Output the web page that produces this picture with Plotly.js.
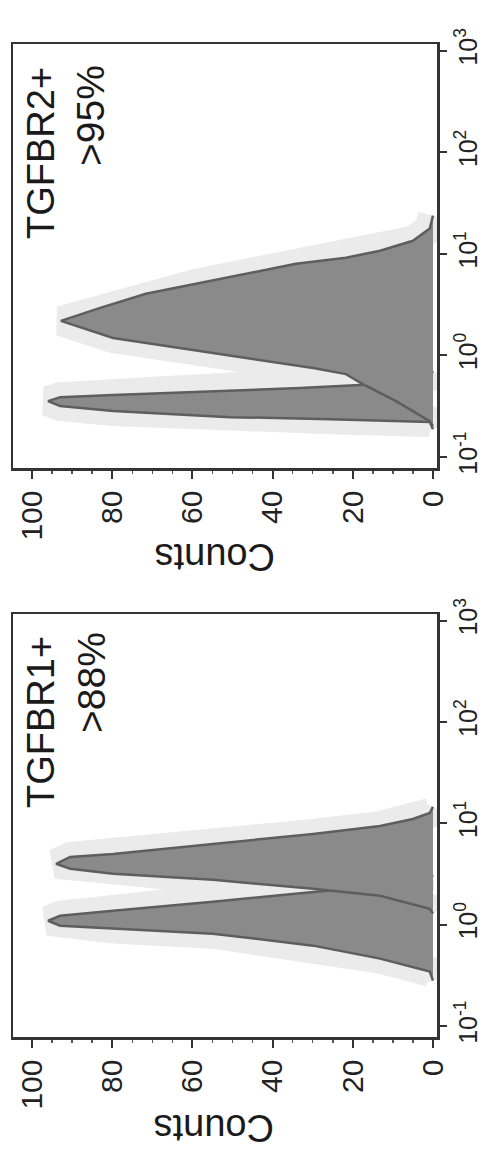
<!DOCTYPE html>
<html>
<head>
<meta charset="utf-8">
<script src="https://cdn.plot.ly/plotly-3.0.1.min.js"></script>
<style>html,body{margin:0;padding:0;background:#fff;}#chart{width:482px;height:1151px;}</style>
</head>
<body>
<div id="chart"></div>
<script>
// ---- Data ----
// Panel 1: TGFBR1+  (>88%)
var r1ControlCounts = [0, 0.8, 13.2, 29.9, 54.9, 79.8, 93.0, 96.0, 93.0, 79.8, 54.9, 29.9, 13.2, 0.8, 0];
var r1ControlFluor  = [0.280, 0.344, 0.461, 0.619, 0.813, 0.912, 0.975, 1.09, 1.22, 1.37, 1.68, 2.10, 2.41, 2.82, 3.09];
var r1StainCounts   = [0, 0.8, 13.2, 29.9, 54.9, 79.8, 90.5, 94.0, 90.5, 79.8, 54.9, 29.9, 13.2, 5.0, 0.8, 0];
var r1StainFluor    = [1.28, 1.43, 1.92, 2.25, 2.77, 3.17, 3.55, 3.98, 4.65, 4.98, 6.25, 7.83, 9.38, 11.0, 12.6, 14.5];
// Panel 2: TGFBR2+  (>95%)
var r2ControlCounts = [0, 0.8, 25.7, 50.6, 79.8, 93.0, 96.0, 93.0, 79.8, 54.9, 33.2, 13.2, 0.8, 0];
var r2ControlFluor  = [0.187, 0.220, 0.235, 0.246, 0.282, 0.316, 0.354, 0.387, 0.406, 0.445, 0.475, 0.521, 0.625, 0.700];
var r2StainCounts   = [0, 0.8, 9.2, 17.5, 21.7, 29.9, 46.6, 63.1, 79.8, 92.8, 83.0, 71.6, 59.1, 46.6, 34.2, 21.7, 13.2, 5.0, 0.8, 0];
var r2StainFluor    = [0.200, 0.224, 0.354, 0.521, 0.653, 0.750, 0.940, 1.18, 1.48, 2.18, 2.93, 4.03, 5.06, 6.35, 7.96, 9.14, 10.7, 13.4, 17.7, 23.7];

var panelNames   = ["TGFBR1+", "TGFBR2+"];
var panelPercent = ["&gt;88%", "&gt;95%"];
var countTicks   = [0, 20, 40, 60, 80, 100];
var fluorTicks   = [0.1, 1, 10, 100, 1000];
var fluorTickText = ["10<sup>-1</sup>", "10<sup>0</sup>", "10<sup>1</sup>", "10<sup>2</sup>", "10<sup>3</sup>"];
var countTitle   = "Counts";

// ---- Styling ----
var FONT = "Liberation Sans, Arial, Helvetica, sans-serif";
var W = 482, H = 1151;
var darkFill = "#8a8a8a", darkLine = "#5e5e5e", halo = "#ebebeb";

function haloTrace(x, y, xa, ya) {
  return {x: x, y: y, xaxis: xa, yaxis: ya, type: "scatter", mode: "lines",
    line: {color: halo, width: 30, shape: "linear"}, fill: "tozerox", fillcolor: halo,
    hoverinfo: "skip", showlegend: false};
}
function histTrace(x, y, xa, ya, name) {
  return {x: x, y: y, xaxis: xa, yaxis: ya, type: "scatter", mode: "lines", name: name,
    line: {color: darkLine, width: 2.5}, fill: "tozerox", fillcolor: darkFill, showlegend: false};
}

var data = [
  haloTrace(r1ControlCounts, r1ControlFluor, "x", "y"),
  haloTrace(r1StainCounts, r1StainFluor, "x", "y"),
  histTrace(r1ControlCounts, r1ControlFluor, "x", "y", "control"),
  histTrace(r1StainCounts, r1StainFluor, "x", "y", panelNames[0]),
  haloTrace(r2ControlCounts, r2ControlFluor, "x2", "y2"),
  haloTrace(r2StainCounts, r2StainFluor, "x2", "y2"),
  histTrace(r2ControlCounts, r2ControlFluor, "x2", "y2", "control"),
  histTrace(r2StainCounts, r2StainFluor, "x2", "y2", panelNames[1])
];

var xDom = [13 / W, 437 / W];
var yDomBottom = [1 - 1037 / H, 1 - 614 / H];
var yDomTop = [1 - 468 / H, 1 - 44 / H];

function countAxis(anchor) {
  return {domain: xDom, anchor: anchor, range: [104.75, -1], autorange: false,
    tickmode: "array", tickvals: countTicks, ticktext: countTicks.map(String), tickangle: -90,
    ticks: "outside", ticklen: 8, tickwidth: 2, tickcolor: "#333",
    minor: {dtick: 5, tick0: 0, ticks: "outside", ticklen: 3, tickwidth: 1.5, tickcolor: "#555"},
    showline: true, linecolor: "#333", linewidth: 2.5, mirror: true,
    showgrid: false, zeroline: false, fixedrange: true,
    tickfont: {family: FONT, size: 30, color: "#222"}};
}
function fluorAxis(anchor, dom) {
  return {domain: dom, anchor: anchor, type: "log", side: "right", range: [-1.11, 3.065], autorange: false,
    tickmode: "array", tickvals: fluorTicks, ticktext: fluorTickText, tickangle: -90,
    ticks: "outside", ticklen: 7, tickwidth: 2, tickcolor: "#333",
    showline: true, linecolor: "#333", linewidth: 2.5, mirror: true,
    showgrid: false, zeroline: false, fixedrange: true,
    tickfont: {family: FONT, size: 25, color: "#222"}};
}

function ann(text, xpx, ypx, size, angle) {
  return {text: text, xref: "paper", yref: "paper", x: xpx / W, y: 1 - ypx / H,
    xanchor: "center", yanchor: "middle", showarrow: false, textangle: angle,
    font: {family: FONT, size: size, color: "#1a1a1a"}};
}

var layout = {
  width: W, height: H, margin: {l: 0, r: 0, t: 0, b: 0},
  paper_bgcolor: "#ffffff", plot_bgcolor: "#ffffff", showlegend: false,
  xaxis: countAxis("y"), yaxis: fluorAxis("x", yDomBottom),
  xaxis2: countAxis("y2"), yaxis2: fluorAxis("x2", yDomTop),
  annotations: [
    ann(panelNames[1], 41, 153, 38, -90),
    ann(panelPercent[1], 91, 116, 39, -90),
    ann(panelNames[0], 41, 722, 38, -90),
    ann(panelPercent[0], 91, 683, 39, -90),
    ann(countTitle, 215, 557, 38, 180),
    ann(countTitle, 214, 1128, 38, 180)
  ]
};

Plotly.newPlot("chart", data, layout, {staticPlot: true, displayModeBar: false});
</script>
</body>
</html>
